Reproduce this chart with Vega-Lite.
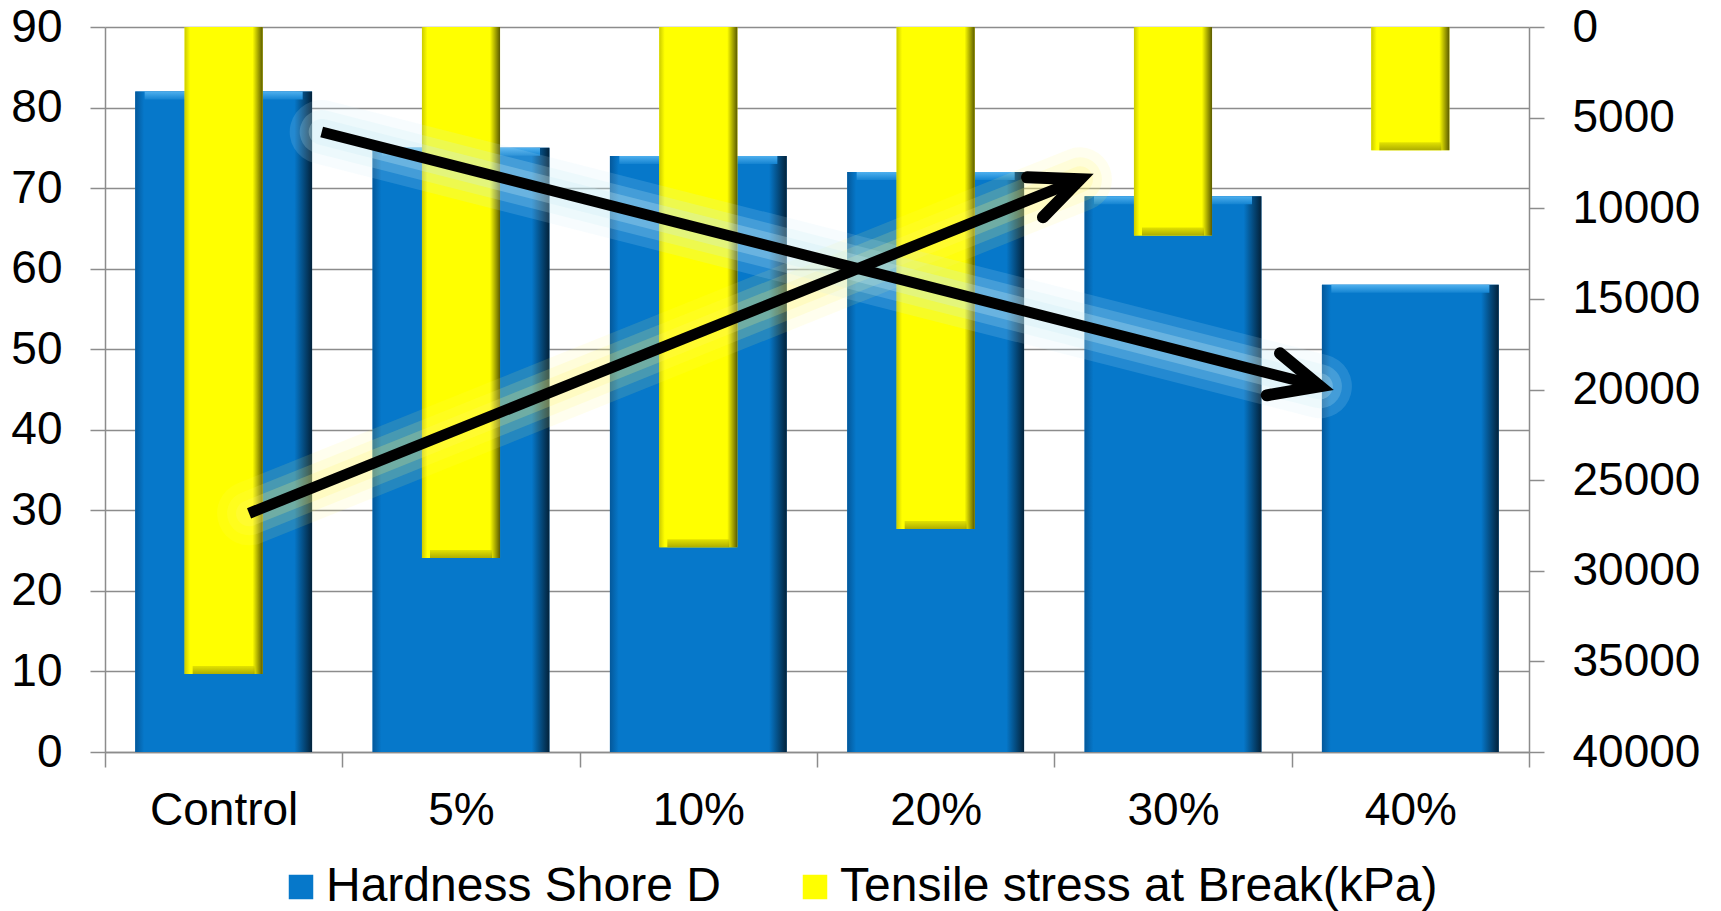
{
  "$schema": "https://vega.github.io/schema/vega-lite/v6.json",
  "width": 1424,
  "height": 725,
  "autosize": {"type": "none"},
  "padding": {"left": 105, "top": 27, "right": 192, "bottom": 159},
  "background": "white",
  "view": {"stroke": null},
  "config": {
    "font": "Liberation Sans",
    "axis": {"labelFont": "Liberation Sans", "labelFontSize": 46, "labelColor": "#000000", "titleFontSize": 0}
  },
  "datasets": {
    "bars": [
      {"category": "Control", "hardness": 82, "tensile": 35700},
      {"category": "5%", "hardness": 75, "tensile": 29300},
      {"category": "10%", "hardness": 74, "tensile": 28700},
      {"category": "20%", "hardness": 72, "tensile": 27700},
      {"category": "30%", "hardness": 69, "tensile": 11500},
      {"category": "40%", "hardness": 58, "tensile": 6800}
    ],
    "shafts": [
      {"arrow": "up", "x": 0.607, "y": 29.63, "x2": 4.108, "y2": 71.09},
      {"arrow": "down", "x": 0.913, "y": 76.97, "x2": 5.119, "y2": 45.4}
    ],
    "heads": [
      {"arrow": "up", "idx": 0, "x": 3.885, "y": 71.34},
      {"arrow": "up", "idx": 1, "x": 4.108, "y": 71.09},
      {"arrow": "up", "idx": 2, "x": 3.952, "y": 66.38},
      {"arrow": "down", "idx": 0, "x": 4.951, "y": 49.49},
      {"arrow": "down", "idx": 1, "x": 5.119, "y": 45.4},
      {"arrow": "down", "idx": 2, "x": 4.895, "y": 44.28}
    ]
  },
  "resolve": {"scale": {"x": "independent", "y": "independent"}},
  "layer": [
    {
      "data": {"name": "bars"},
      "mark": {"type": "bar", "width": {"band": 0.745}},
      "encoding": {
        "x": {
          "field": "category", "type": "nominal", "sort": null,
          "scale": {"domain": ["Control", "5%", "10%", "20%", "30%", "40%"], "paddingInner": 0, "paddingOuter": 0},
          "axis": {"title": null, "labelAngle": 0, "tickBand": "extent", "tickSize": 15, "tickColor": "#8c8c8c", "tickWidth": 1.5, "domainColor": "#8c8c8c", "domainWidth": 1.5, "labelPadding": 21, "labelFontSize": 46}
        },
        "y": {
          "field": "hardness", "type": "quantitative",
          "scale": {"domain": [0, 90], "nice": false, "zero": true},
          "axis": {"title": null, "values": [0, 10, 20, 30, 40, 50, 60, 70, 80, 90], "grid": true, "gridColor": "#8c8c8c", "gridWidth": 1.5, "tickSize": 15, "tickColor": "#8c8c8c", "tickWidth": 1.5, "domainColor": "#8c8c8c", "domainWidth": 1.5, "labelPadding": 28, "labelFontSize": 46}
        },
        "color": {
          "datum": "Hardness Shore D", "type": "nominal",
          "scale": {"domain": ["Hardness Shore D", "Tensile stress at Break(kPa)"], "range": ["#0678CA", "#FFFF00"]},
          "legend": {"orient": "none", "legendX": 172, "legendY": 836, "direction": "horizontal", "title": null, "symbolType": "square", "symbolSize": 600, "symbolStrokeWidth": 0, "labelFont": "Liberation Sans", "labelFontSize": 48, "labelColor": "#000000", "labelOffset": 1, "columnPadding": 70, "padding": 0, "labelLimit": 1000}
        }
      }
    },
    {
      "data": {"name": "bars"},
      "mark": {"type": "bar", "width": {"band": 0.745}, "color": {"x1": 0, "y1": 0, "x2": 1, "y2": 0, "gradient": "linear", "stops": [{"offset": 0, "color": "#04589a"}, {"offset": 0.05, "color": "#0678CA"}, {"offset": 0.9, "color": "#0678CA"}, {"offset": 1, "color": "#03223a"}]}},
      "encoding": {
        "x": {"field": "category", "type": "nominal", "sort": null, "scale": {"domain": ["Control", "5%", "10%", "20%", "30%", "40%"], "paddingInner": 0, "paddingOuter": 0}, "axis": null},
        "y": {"field": "hardness", "type": "quantitative", "scale": {"domain": [0, 90], "nice": false}, "axis": null}
      }
    },
    {
      "data": {"name": "bars"},
      "mark": {"type": "tick", "orient": "horizontal", "size": 158, "thickness": 8, "yOffset": 4, "color": {"x1": 0, "y1": 0, "x2": 0, "y2": 1, "gradient": "linear", "stops": [{"offset": 0, "color": "#4fb0ee"}, {"offset": 1, "color": "#1484d2"}]}, "opacity": 1},
      "encoding": {
        "x": {"field": "category", "type": "nominal", "sort": null, "scale": {"domain": ["Control", "5%", "10%", "20%", "30%", "40%"], "paddingInner": 0, "paddingOuter": 0}, "axis": null},
        "y": {"field": "hardness", "type": "quantitative", "scale": {"domain": [0, 90], "nice": false}, "axis": null}
      }
    },
    {
      "data": {"name": "bars"},
      "mark": {"type": "bar", "width": {"band": 0.329}},
      "encoding": {
        "x": {"field": "category", "type": "nominal", "sort": null, "scale": {"domain": ["Control", "5%", "10%", "20%", "30%", "40%"], "paddingInner": 0, "paddingOuter": 0}, "axis": null},
        "y": {
          "field": "tensile", "type": "quantitative",
          "scale": {"domain": [0, 40000], "nice": false, "reverse": true},
          "axis": {"orient": "right", "title": null, "values": [0, 5000, 10000, 15000, 20000, 25000, 30000, 35000, 40000], "format": "d", "grid": false, "tickSize": 15, "tickColor": "#8c8c8c", "tickWidth": 1.5, "domainColor": "#8c8c8c", "domainWidth": 1.5, "labelPadding": 28, "labelFontSize": 46}
        },
        "color": {"datum": "Tensile stress at Break(kPa)", "type": "nominal"}
      }
    },
    {
      "data": {"name": "bars"},
      "mark": {"type": "bar", "width": {"band": 0.329}, "color": {"x1": 0, "y1": 0, "x2": 1, "y2": 0, "gradient": "linear", "stops": [{"offset": 0, "color": "#cccc00"}, {"offset": 0.07, "color": "#FFFF00"}, {"offset": 0.87, "color": "#FFFF00"}, {"offset": 1, "color": "#5a5a00"}]}},
      "encoding": {
        "x": {"field": "category", "type": "nominal", "sort": null, "scale": {"domain": ["Control", "5%", "10%", "20%", "30%", "40%"], "paddingInner": 0, "paddingOuter": 0}, "axis": null},
        "y": {"field": "tensile", "type": "quantitative", "scale": {"domain": [0, 40000], "nice": false, "reverse": true}, "axis": null}
      }
    },
    {
      "data": {"name": "bars"},
      "mark": {"type": "tick", "orient": "horizontal", "size": 62, "thickness": 8, "yOffset": -4, "color": {"x1": 0, "y1": 0, "x2": 0, "y2": 1, "gradient": "linear", "stops": [{"offset": 0, "color": "#d6d600"}, {"offset": 1, "color": "#8a8a00"}]}},
      "encoding": {
        "x": {"field": "category", "type": "nominal", "sort": null, "scale": {"domain": ["Control", "5%", "10%", "20%", "30%", "40%"], "paddingInner": 0, "paddingOuter": 0}, "axis": null},
        "y": {"field": "tensile", "type": "quantitative", "scale": {"domain": [0, 40000], "nice": false, "reverse": true}, "axis": null}
      }
    },
    {
      "data": {"name": "shafts"},
      "transform": [{"filter": "datum.arrow === 'up'"}],
      "mark": {"type": "rule", "color": "#fff870", "strokeWidth": 64, "opacity": 0.12, "strokeCap": "round"},
      "encoding": {
        "x": {"field": "x", "type": "quantitative", "scale": {"domain": [0, 6], "nice": false, "zero": false}, "axis": null},
        "x2": {"field": "x2"},
        "y": {"field": "y", "type": "quantitative", "scale": {"domain": [0, 90], "nice": false}, "axis": null},
        "y2": {"field": "y2"}
      }
    },
    {
      "data": {"name": "shafts"},
      "transform": [{"filter": "datum.arrow === 'up'"}],
      "mark": {"type": "rule", "color": "#fff870", "strokeWidth": 44, "opacity": 0.16, "strokeCap": "round"},
      "encoding": {
        "x": {"field": "x", "type": "quantitative", "scale": {"domain": [0, 6], "nice": false, "zero": false}, "axis": null},
        "x2": {"field": "x2"},
        "y": {"field": "y", "type": "quantitative", "scale": {"domain": [0, 90], "nice": false}, "axis": null},
        "y2": {"field": "y2"}
      }
    },
    {
      "data": {"name": "shafts"},
      "transform": [{"filter": "datum.arrow === 'up'"}],
      "mark": {"type": "rule", "color": "#fff870", "strokeWidth": 26, "opacity": 0.22, "strokeCap": "round"},
      "encoding": {
        "x": {"field": "x", "type": "quantitative", "scale": {"domain": [0, 6], "nice": false, "zero": false}, "axis": null},
        "x2": {"field": "x2"},
        "y": {"field": "y", "type": "quantitative", "scale": {"domain": [0, 90], "nice": false}, "axis": null},
        "y2": {"field": "y2"}
      }
    },
    {
      "data": {"name": "shafts"},
      "transform": [{"filter": "datum.arrow === 'down'"}],
      "mark": {"type": "rule", "color": "#c8eef5", "strokeWidth": 64, "opacity": 0.15, "strokeCap": "round"},
      "encoding": {
        "x": {"field": "x", "type": "quantitative", "scale": {"domain": [0, 6], "nice": false, "zero": false}, "axis": null},
        "x2": {"field": "x2"},
        "y": {"field": "y", "type": "quantitative", "scale": {"domain": [0, 90], "nice": false}, "axis": null},
        "y2": {"field": "y2"}
      }
    },
    {
      "data": {"name": "shafts"},
      "transform": [{"filter": "datum.arrow === 'down'"}],
      "mark": {"type": "rule", "color": "#c8eef5", "strokeWidth": 44, "opacity": 0.2, "strokeCap": "round"},
      "encoding": {
        "x": {"field": "x", "type": "quantitative", "scale": {"domain": [0, 6], "nice": false, "zero": false}, "axis": null},
        "x2": {"field": "x2"},
        "y": {"field": "y", "type": "quantitative", "scale": {"domain": [0, 90], "nice": false}, "axis": null},
        "y2": {"field": "y2"}
      }
    },
    {
      "data": {"name": "shafts"},
      "transform": [{"filter": "datum.arrow === 'down'"}],
      "mark": {"type": "rule", "color": "#c8eef5", "strokeWidth": 26, "opacity": 0.28, "strokeCap": "round"},
      "encoding": {
        "x": {"field": "x", "type": "quantitative", "scale": {"domain": [0, 6], "nice": false, "zero": false}, "axis": null},
        "x2": {"field": "x2"},
        "y": {"field": "y", "type": "quantitative", "scale": {"domain": [0, 90], "nice": false}, "axis": null},
        "y2": {"field": "y2"}
      }
    },
    {
      "data": {"name": "shafts"},
      "mark": {"type": "rule", "color": "#000000", "strokeWidth": 11, "strokeCap": "butt"},
      "encoding": {
        "x": {"field": "x", "type": "quantitative", "scale": {"domain": [0, 6], "nice": false, "zero": false}, "axis": null},
        "x2": {"field": "x2"},
        "y": {"field": "y", "type": "quantitative", "scale": {"domain": [0, 90], "nice": false}, "axis": null},
        "y2": {"field": "y2"}
      }
    },
    {
      "data": {"name": "heads"},
      "mark": {"type": "line", "color": "#000000", "strokeWidth": 12, "strokeCap": "round", "strokeJoin": "miter", "strokeMiterLimit": 10},
      "encoding": {
        "x": {"field": "x", "type": "quantitative", "scale": {"domain": [0, 6], "nice": false, "zero": false}, "axis": null},
        "y": {"field": "y", "type": "quantitative", "scale": {"domain": [0, 90], "nice": false}, "axis": null},
        "detail": {"field": "arrow", "type": "nominal"},
        "order": {"field": "idx", "type": "quantitative"}
      }
    }
  ]
}
